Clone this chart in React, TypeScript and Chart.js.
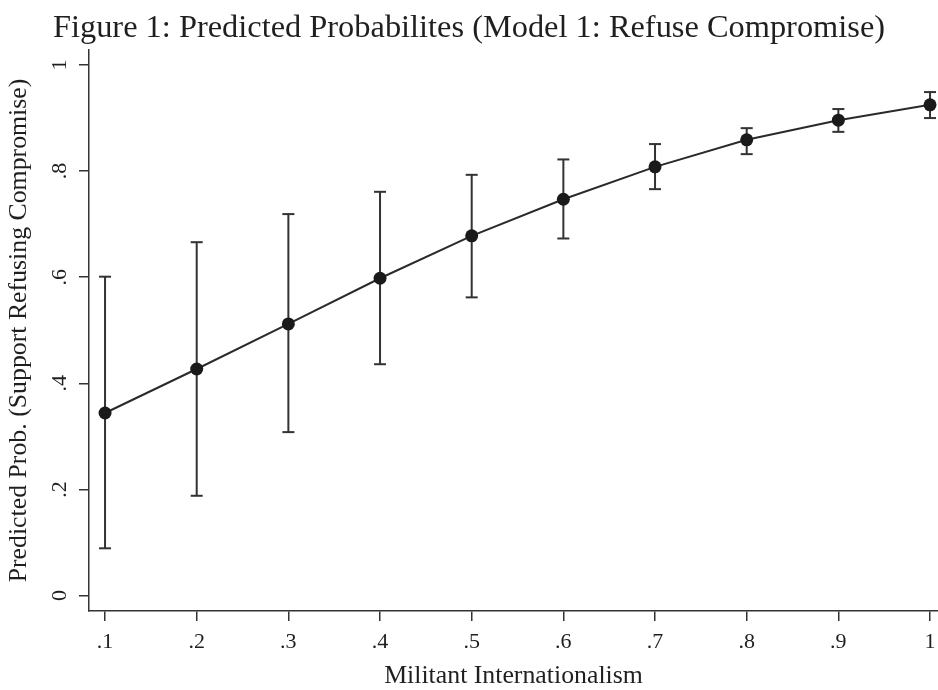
import React, { useEffect, useRef } from 'react';
import { Chart, registerables } from 'chart.js';

Chart.register(...registerables);

const titleText = 'Figure 1: Predicted Probabilites (Model 1: Refuse Compromise)';
const xAxisTitle = 'Militant Internationalism';
const yAxisTitle = 'Predicted Prob. (Support Refusing Compromise)';

const xValues = [0.1, 0.2, 0.3, 0.4, 0.5, 0.6, 0.7, 0.8, 0.9, 1.0];
const predicted = [0.344, 0.427, 0.512, 0.598, 0.678, 0.747, 0.808, 0.859, 0.896, 0.925];
const lowerCI = [0.089, 0.188, 0.308, 0.436, 0.562, 0.673, 0.766, 0.832, 0.874, 0.9];
const upperCI = [0.601, 0.666, 0.719, 0.761, 0.793, 0.822, 0.851, 0.881, 0.917, 0.949];

const xTickValues = [0.1, 0.2, 0.3, 0.4, 0.5, 0.6, 0.7, 0.8, 0.9, 1.0];
const xTickLabels = ['.1', '.2', '.3', '.4', '.5', '.6', '.7', '.8', '.9', '1'];
const yTickValues = [0, 0.2, 0.4, 0.6, 0.8, 1];
const yTickLabels = ['0', '.2', '.4', '.6', '.8', '1'];

const FONT = "'Liberation Serif', 'Times New Roman', serif";
const INK = '#1f1f1f';

export default function App() {
  const ref = useRef<HTMLCanvasElement | null>(null);

  useEffect(() => {
    if (!ref.current) return;
    const mainData = xValues.map((x, i) => ({ x, y: predicted[i] }));
    const errData: { x: number; y: number | null }[] = [];
    xValues.forEach((x, i) => {
      errData.push({ x, y: lowerCI[i] });
      errData.push({ x, y: upperCI[i] });
      errData.push({ x, y: null });
    });

    const chart = new Chart(ref.current, {
      type: 'scatter',
      data: {
        datasets: [
          {
            data: mainData,
            showLine: true,
            borderColor: '#2a2a2a',
            borderWidth: 2,
            pointRadius: 6.5,
            pointBackgroundColor: '#1a1a1a',
            pointBorderColor: '#1a1a1a',
            pointBorderWidth: 0,
            tension: 0,
          },
          {
            data: errData,
            showLine: true,
            spanGaps: false,
            borderColor: '#333333',
            borderWidth: 2,
            pointStyle: 'line',
            pointRadius: 6,
            pointBorderColor: '#333333',
            pointBorderWidth: 2,
          },
        ],
      },
      options: {
        responsive: false,
        animation: false,
        events: [],
        layout: { padding: 0, autoPadding: false },
        plugins: {
          legend: { display: false },
          tooltip: { enabled: false },
          title: {
            display: true,
            text: titleText,
            color: INK,
            font: { family: FONT, size: 32.4, weight: 'normal', lineHeight: 1 },
            padding: { top: 12.5, bottom: 5.1 },
          },
        },
        scales: {
          x: {
            type: 'linear',
            min: 0.0825,
            max: 1.0087,
            afterBuildTicks: (s: any) => {
              s.ticks = xTickValues.map((v) => ({ value: v }));
            },
            afterFit: (s: any) => {
              s.height = 79;
              s.paddingLeft = 0;
              s.paddingRight = 0;
            },
            grid: { display: true, drawOnChartArea: false, drawTicks: true, tickLength: 10, color: '#333', lineWidth: 1.5 },
            border: { display: true, color: '#333', width: 1.5 },
            ticks: {
              autoSkip: false,
              maxRotation: 0,
              minRotation: 0,
              padding: 10,
              color: INK,
              font: { family: FONT, size: 22, lineHeight: 1 },
              callback: (_v: any, i: number) => xTickLabels[i],
            },
            title: {
              display: true,
              text: xAxisTitle,
              color: INK,
              font: { family: FONT, size: 25.8, lineHeight: 1 },
              padding: { top: 0, bottom: 0.8 },
            },
          },
          y: {
            type: 'linear',
            min: -0.0292,
            max: 1.0283,
            afterBuildTicks: (s: any) => {
              s.ticks = yTickValues.map((v) => ({ value: v }));
            },
            afterFit: (s: any) => {
              s.width = 89;
              s.paddingTop = 0;
              s.paddingBottom = 0;
            },
            grid: { display: true, drawOnChartArea: false, drawTicks: true, tickLength: 10, color: '#333', lineWidth: 1.5 },
            border: { display: true, color: '#333', width: 1.5 },
            ticks: {
              autoSkip: false,
              minRotation: 90,
              maxRotation: 90,
              crossAlign: 'center',
              padding: 11,
              color: INK,
              font: { family: FONT, size: 22, lineHeight: 1 },
              callback: (_v: any, i: number) => yTickLabels[i],
            },
            title: {
              display: true,
              text: yAxisTitle,
              color: INK,
              font: { family: FONT, size: 25.8, lineHeight: 1 },
              padding: { top: 6.7, bottom: 0 },
            },
          },
        },
      },
    } as any);
    return () => chart.destroy();
  }, []);

  return (
    <div style={{ position: 'absolute', left: 0, top: 0, width: 938, height: 690, background: '#fff' }}>
      <canvas ref={ref} width={938} height={690} />
    </div>
  );
}
